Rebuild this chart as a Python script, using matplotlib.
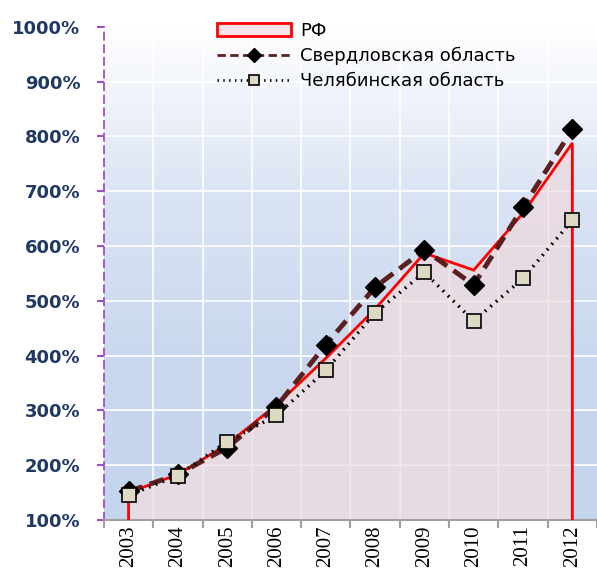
import numpy as np
import matplotlib.pyplot as plt
from matplotlib.colors import LinearSegmentedColormap

years = ['2003', '2004', '2005', '2006', '2007', '2008', '2009', '2010', '2011', '2012']
rf = [150, 183, 238, 310, 395, 485, 587, 556, 660, 788]
sverdlovsk = [152, 183, 232, 307, 420, 525, 593, 529, 671, 813]
chelyabinsk = [145, 181, 243, 291, 373, 478, 552, 463, 541, 647]
yticks = [100, 200, 300, 400, 500, 600, 700, 800, 900, 1000]

fig = plt.figure(figsize=(5.97, 5.72), dpi=100)
ax = fig.add_axes([0.174, 0.091, 0.826, 0.862])

x = np.arange(len(years))
ax.set_xlim(-0.5, 9.5)
ax.set_ylim(100, 1000)

# background gradient (white at top, light blue below)
bg = LinearSegmentedColormap.from_list('bg', ['#c6d5ee', '#c9d8ef', '#dbe4f4', '#ffffff'])
grad = np.linspace(0, 1, 256).reshape(-1, 1)
ax.imshow(grad, extent=(-0.5, 9.5, 100, 1000), origin='lower', aspect='auto',
          cmap=bg, zorder=0)

# white grid
for yv in yticks[1:-1]:
    ax.axhline(yv, color='white', lw=1.2, zorder=1)
for xv in np.arange(0.5, 9.5, 1):
    ax.axvline(xv, color='white', lw=1.2, zorder=1)

# RF area
ax.fill_between(x, 100, rf, facecolor='#eadbe2', alpha=0.9, zorder=2, lw=0)
for xv in np.arange(0.5, 9.5, 1):
    ax.plot([xv, xv], [100, np.interp(xv, x, rf)], color='#f4e8ea', lw=1.0, zorder=2)
for yv in yticks[1:-1]:
    xs = np.linspace(0, 9, 400)
    mask = np.interp(xs, x, rf) > yv
    ax.plot(np.where(mask, xs, np.nan), np.full_like(xs, yv), color='#f4e8ea', lw=1.0, zorder=2)
ax.plot(np.r_[x[0], x, x[-1]], np.r_[100, rf, 100], color='#ff0000', lw=2, zorder=3,
        solid_joinstyle='miter')
ax.fill(np.nan, np.nan, facecolor='#f2e4e8', edgecolor='#ff0000', lw=2, label='РФ')

ax.plot(x, sverdlovsk, color='#5c1f1f', lw=3.5, dashes=(3, 1.6), marker='D',
        markersize=10, markerfacecolor='black', markeredgecolor='black', zorder=4,
        label='Свердловская область')
ax.plot(x, chelyabinsk, color='black', lw=2.5, linestyle=(0, (0.5, 1.6)), marker='s',
        markersize=10, markerfacecolor='#ddd9c3', markeredgecolor='black',
        markeredgewidth=1.2, zorder=5, label='Челябинская область')

# axes styling
for s in ['top', 'right']:
    ax.spines[s].set_visible(False)
ax.spines['left'].set_color('#9b4fc8')
ax.spines['left'].set_linestyle((0, (4, 3)))
ax.spines['left'].set_linewidth(1.3)
ax.spines['bottom'].set_color('#a0a0a0')
ax.spines['bottom'].set_linewidth(1.5)

ax.set_yticks(yticks)
ax.set_yticklabels([f'{v}%' for v in yticks], fontsize=13, fontweight='bold',
                   color='#203864', family='DejaVu Sans')
ax.tick_params(axis='y', color='#9b4fc8', width=1.5, length=5, pad=12)

ax.set_xticks(np.arange(-0.5, 10, 1))
ax.set_xticklabels([])
ax.set_xticks(x, minor=True)
ax.set_xticklabels(years, minor=True, rotation=90, fontsize=15, family='Liberation Serif')
ax.tick_params(axis='x', which='major', color='#a0a0a0', width=1.5, length=6)
ax.tick_params(axis='x', which='minor', length=0, pad=4)

leg = ax.legend(loc='upper left', bbox_to_anchor=(0.215, 1.025), frameon=False,
                fontsize=13, handlelength=4.1, handletextpad=0.5, labelspacing=0.4,
                borderaxespad=0, markerscale=0.7)
for h in leg.get_lines():
    h.set_linewidth(2)

plt.savefig('out.png', dpi=100)
plt.close()
